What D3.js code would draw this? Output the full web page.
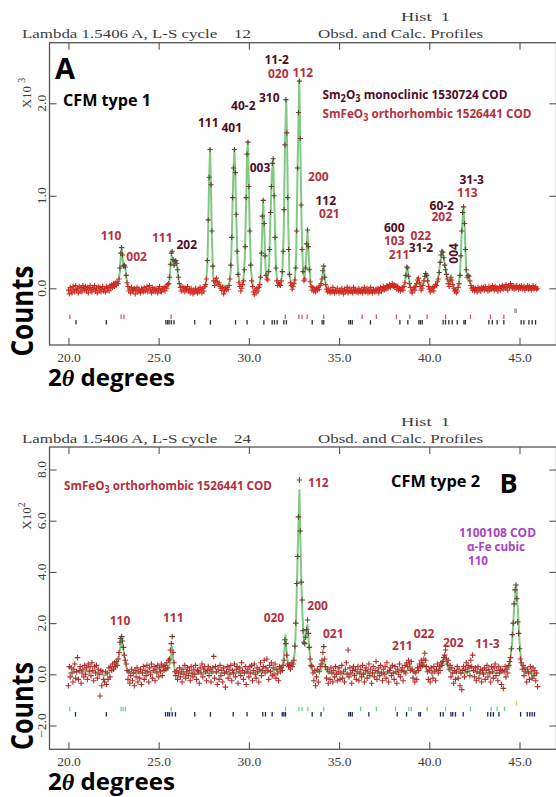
<!DOCTYPE html>
<html><head><meta charset="utf-8">
<script src="https://cdn.jsdelivr.net/npm/d3@7"></script>
<style>body{margin:0;background:#fff}svg{display:block}</style>
</head><body>
<svg id="c" width="556" height="797"></svg>
<script>
// ---------------- DATA ----------------
const xTickValues = [20, 25, 30, 35, 40, 45];
const obsStart = 20.0, obsStep = 0.05;   // 2-theta of first point and step (deg)

// Panel A observed counts (x10^3), 20.00 .. 46.00
const obsA = [
-0.02,-0.06,0.01,-0.03,-0.05,0.02,-0.01,-0.04,0.03,-0.02,0.00,-0.05,0.02,-0.03,0.01,-0.04,0.03,0.00,-0.02,0.02,
-0.03,0.01,-0.05,0.00,0.03,-0.02,-0.04,0.01,-0.01,0.03,-0.03,0.00,-0.05,0.02,-0.02,0.01,-0.04,-0.01,0.02,-0.03,
0.00,-0.04,0.02,-0.02,0.01,-0.03,0.03,0.00,0.04,0.01,0.05,0.02,0.06,0.03,0.07,0.05,0.10,0.22,0.38,0.44,
0.36,0.24,0.25,0.23,0.14,0.06,0.02,-0.03,-0.01,-0.05,0.01,-0.03,-0.02,0.00,-0.06,-0.02,0.01,-0.04,-0.01,-0.03,
-0.05,0.00,-0.02,-0.04,0.01,-0.03,-0.01,0.02,-0.04,0.00,0.03,-0.02,-0.05,0.01,-0.03,-0.01,-0.04,0.00,-0.02,-0.05,
-0.01,0.02,-0.03,-0.04,0.00,-0.02,0.01,-0.03,0.02,0.00,0.04,0.05,0.12,0.26,0.38,0.40,0.31,0.25,0.29,0.30,
0.27,0.20,0.12,0.05,0.01,-0.03,0.02,-0.02,0.01,-0.04,0.00,-0.02,0.02,-0.03,-0.01,-0.05,0.00,-0.03,-0.06,-0.02,
-0.04,0.00,-0.03,-0.05,-0.01,-0.04,0.01,-0.02,-0.05,0.00,-0.03,0.02,0.04,0.10,0.30,0.74,1.20,1.50,1.12,0.62,
0.24,0.08,0.03,0.08,0.11,0.07,0.04,0.06,0.02,0.00,-0.02,0.01,-0.06,-0.03,0.00,-0.02,0.01,-0.01,0.03,0.10,
0.25,0.55,0.98,1.30,1.50,1.25,0.80,0.40,0.15,0.06,0.02,-0.03,0.00,0.04,0.08,0.20,0.45,0.98,1.45,1.58,
1.10,0.62,0.25,0.08,0.02,-0.04,-0.07,-0.02,-0.05,0.00,-0.03,0.01,0.04,0.12,0.38,0.78,0.95,0.70,0.35,0.14,
0.10,0.09,0.18,0.42,0.82,1.10,1.35,1.40,1.00,0.55,0.22,0.08,0.03,0.06,0.04,0.03,0.08,0.18,0.40,0.85,
1.55,2.04,1.68,0.98,0.42,0.15,0.06,0.03,-0.01,0.02,0.05,0.09,0.22,0.62,1.30,1.90,2.24,1.62,0.90,0.42,
0.18,0.08,0.10,0.22,0.48,0.63,0.45,0.20,0.07,0.02,-0.02,0.01,-0.03,-0.01,-0.04,0.00,-0.02,0.01,-0.01,0.03,
0.05,0.10,0.19,0.24,0.12,0.04,-0.01,-0.04,0.00,-0.03,-0.05,-0.02,-0.04,0.01,-0.03,-0.05,-0.02,-0.04,0.00,-0.03,
-0.05,-0.02,-0.04,0.00,-0.03,-0.06,-0.01,-0.04,-0.02,0.01,-0.05,-0.03,0.00,-0.04,-0.02,-0.05,0.01,-0.03,-0.01,-0.04,
-0.02,-0.05,0.00,-0.03,-0.04,-0.01,-0.05,-0.02,0.01,-0.04,-0.03,0.00,-0.05,-0.02,-0.04,0.01,-0.03,-0.05,-0.01,-0.03,
-0.04,-0.01,-0.03,0.00,-0.05,-0.02,0.01,-0.03,-0.01,0.02,-0.02,0.01,-0.01,0.03,0.00,0.02,0.04,0.01,0.03,0.05,
0.02,0.04,0.01,0.03,-0.01,0.02,-0.02,0.00,-0.03,-0.01,0.01,-0.02,0.02,0.06,0.14,0.23,0.22,0.13,0.05,0.01,
-0.03,-0.05,-0.01,0.01,-0.02,0.02,0.05,0.09,0.11,0.06,0.02,-0.02,0.00,0.03,0.08,0.13,0.16,0.14,0.08,0.02,
-0.01,-0.04,0.00,-0.02,0.01,-0.03,0.02,0.04,0.03,0.07,0.10,0.17,0.28,0.36,0.40,0.39,0.33,0.25,0.20,0.15,
0.10,0.05,0.02,0.08,0.12,0.09,0.04,0.00,-0.03,-0.02,-0.05,-0.03,0.01,0.05,0.14,0.35,0.62,0.82,0.88,0.70,
0.42,0.20,0.12,0.14,0.13,0.08,0.03,0.00,-0.02,0.01,-0.03,0.00,-0.02,-0.04,0.01,-0.02,0.00,-0.03,0.01,-0.01,
0.01,-0.02,0.02,-0.01,0.00,-0.03,0.02,-0.02,0.01,-0.01,0.03,0.00,-0.02,0.02,-0.01,0.01,-0.03,0.00,0.02,-0.02,
0.01,0.03,-0.01,0.02,0.00,0.04,0.01,-0.02,0.03,0.01,0.05,0.02,0.00,0.03,-0.01,0.02,0.00,0.03,0.01,-0.01,
0.02,0.00,0.03,-0.01,0.01,0.02,-0.02,0.01,0.00,0.03,-0.01,0.02,0.00,-0.02,0.01,0.03,-0.01,0.00,0.02,-0.01,
0.00];

// Panel A calculated profile vertices [2theta, counts x10^3]
const calcA = [
[20.00,-0.01],[21.00,-0.01],[22.00,0.00],[22.50,0.02],[22.75,0.05],[22.85,0.18],[22.90,0.34],[22.95,0.42],[23.00,0.33],[23.05,0.24],[23.10,0.25],[23.15,0.22],[23.22,0.10],[23.30,0.01],
[24.00,-0.02],[25.00,-0.01],[25.50,0.02],[25.60,0.08],[25.65,0.22],[25.72,0.35],[25.80,0.28],[25.88,0.24],[25.95,0.28],[26.02,0.24],[26.10,0.10],[26.20,0.01],
[27.00,-0.02],[27.60,0.01],[27.70,0.25],[27.75,0.70],[27.80,1.20],[27.85,1.50],[27.90,1.10],[27.95,0.55],[28.02,0.12],[28.10,0.04],[28.20,0.08],[28.30,0.04],[28.90,0.02],
[29.00,0.20],[29.05,0.52],[29.10,0.95],[29.15,1.30],[29.20,1.50],[29.25,1.22],[29.30,0.78],[29.38,0.25],[29.48,0.04],[29.60,0.02],[29.70,0.08],[29.78,0.35],[29.85,0.95],[29.90,1.45],[29.94,1.58],[30.00,1.10],[30.05,0.60],[30.12,0.18],[30.25,0.00],
[30.55,0.00],[30.65,0.12],[30.72,0.50],[30.79,0.95],[30.85,0.68],[30.93,0.20],[31.02,0.09],[31.12,0.25],[31.20,0.80],[31.28,1.25],[31.35,1.40],[31.42,0.85],[31.50,0.22],[31.60,0.04],
[31.75,0.04],[31.85,0.15],[31.93,0.60],[32.00,1.55],[32.07,2.04],[32.12,1.55],[32.18,0.70],[32.25,0.14],[32.40,0.01],[32.55,0.08],[32.62,0.35],[32.70,1.30],[32.79,2.25],[32.85,1.60],[32.92,0.70],[33.00,0.18],
[33.08,0.09],[33.18,0.35],[33.25,0.62],[33.32,0.35],[33.42,0.05],[33.60,-0.01],[33.95,0.02],[34.08,0.14],[34.15,0.23],[34.22,0.08],[34.35,-0.02],[35.00,-0.03],[36.00,-0.03],[37.00,-0.02],[37.70,0.02],[38.00,0.03],
[38.40,0.00],[38.62,0.03],[38.72,0.17],[38.78,0.23],[38.84,0.15],[38.95,0.01],[39.15,0.00],[39.30,0.06],[39.40,0.10],[39.50,0.04],[39.65,0.04],[39.80,0.15],[39.88,0.16],[39.97,0.03],[40.20,0.00],
[40.45,0.06],[40.60,0.27],[40.72,0.40],[40.80,0.34],[40.90,0.21],[41.00,0.10],[41.10,0.04],[41.20,0.10],[41.30,0.04],[41.45,-0.02],[41.60,0.01],[41.70,0.15],[41.80,0.62],[41.90,0.88],[41.96,0.65],[42.05,0.18],
[42.15,0.13],[42.25,0.07],[42.40,0.00],[43.00,0.00],[44.00,0.01],[45.00,0.01],[46.00,0.00]];

// Panel A reflection markers (2theta)
const ticksA_SmFeO3 = [20.08,22.92,23.08,25.69,32.02,32.77,32.95,33.23,34.15,36.28,37.07,38.18,38.92,39.88,40.90,42.28,43.39,44.13];
const ticksA_Sm2O3 = [20.42,22.10,25.40,25.50,25.58,25.70,25.85,27.00,27.87,29.26,29.90,30.83,31.29,31.42,31.57,31.94,32.08,33.51,34.06,34.15,35.54,35.63,35.73,36.74,38.37,38.81,39.42,39.51,39.61,40.77,40.90,41.08,41.27,41.55,41.92,42.00,43.30,43.49,43.76,44.13,45.09,45.24,45.52,45.70,45.89];
const ticksA_extra = [44.74,44.82];
const yTicksA = [0, 1, 2];

// Panel A hkl labels: text, 2theta, counts(x10^3), phase (f = SmFeO3, s = Sm2O3)
const peakLabelsA = [
{t:"110",x:22.36,y:0.569,ph:"f"},{t:"002",x:23.78,y:0.342,ph:"f"},{t:"111",x:25.20,y:0.547,ph:"f"},
{t:"202",x:26.56,y:0.476,ph:"s"},{t:"111",x:27.75,y:1.790,ph:"s"},{t:"401",x:29.05,y:1.741,ph:"s"},
{t:"40-2",x:29.69,y:1.971,ph:"s"},{t:"310",x:31.13,y:2.065,ph:"s"},{t:"11-2",x:31.54,y:2.476,ph:"s"},
{t:"020",x:31.63,y:2.317,ph:"f"},{t:"112",x:32.99,y:2.335,ph:"f"},{t:"003",x:30.62,y:1.304,ph:"s"},
{t:"200",x:33.85,y:1.206,ph:"f"},{t:"112",x:34.26,y:0.944,ph:"s"},{t:"021",x:34.46,y:0.803,ph:"f"},
{t:"600",x:38.06,y:0.655,ph:"s"},{t:"103",x:38.06,y:0.515,ph:"f"},{t:"211",x:38.32,y:0.360,ph:"f"},
{t:"022",x:39.53,y:0.565,ph:"f"},{t:"31-2",x:39.54,y:0.443,ph:"s"},{t:"60-2",x:40.69,y:0.893,ph:"s"},
{t:"202",x:40.69,y:0.774,ph:"f"},{t:"31-3",x:42.35,y:1.178,ph:"s"},{t:"113",x:42.11,y:1.034,ph:"f"}];
const rotatedLabelsA = [{t:"004",x:41.33,y:0.378,ph:"s"}];

// Panel B observed counts (x10^2), 20.00 .. 46.00
const obsB = [
-0.45,0.30,-0.10,0.25,0.05,-0.30,0.20,0.40,-0.15,0.10,0.65,-0.20,0.15,0.30,-0.35,0.05,0.20,-0.10,0.35,0.00,
0.25,-0.20,0.40,0.10,0.30,-0.05,0.45,0.15,-0.25,0.30,0.05,0.35,-0.15,0.20,0.00,-0.85,0.15,-0.45,0.10,-0.20,
-0.30,0.10,-0.40,0.05,-0.20,0.25,-0.10,0.30,0.15,0.40,0.20,0.45,0.30,0.50,0.35,0.60,0.85,1.25,1.40,1.47,
1.30,1.05,0.75,0.55,0.40,0.15,-0.20,0.10,-0.35,-0.05,0.20,-0.25,0.05,-0.45,0.15,-0.10,0.25,-0.30,0.10,-0.15,
0.20,-0.40,0.05,0.30,-0.20,0.15,-0.05,0.35,0.10,-0.30,0.25,0.00,0.40,-0.15,0.15,0.30,-0.25,0.20,0.05,0.35,
-0.10,0.25,0.10,0.40,-0.05,0.30,0.15,0.35,0.20,0.45,0.25,0.55,0.60,0.95,1.20,1.47,0.85,0.45,0.10,-0.05,
0.15,-0.20,0.05,0.25,-0.10,0.10,-0.30,0.20,0.00,0.35,-0.15,0.10,0.25,-0.05,0.15,-0.25,0.30,0.05,-0.10,0.20,
0.00,0.35,-0.20,0.15,0.10,-0.35,0.25,0.05,0.40,-0.10,0.20,0.30,0.10,-0.25,0.15,0.30,-0.05,0.20,-0.30,0.10,
0.25,0.70,-0.15,0.30,0.10,-0.40,0.20,-0.20,0.35,-0.05,0.15,-0.30,0.25,0.05,-0.50,0.10,0.30,-0.15,0.20,0.00,
0.35,-0.25,0.15,0.05,0.40,-0.10,0.20,0.30,-0.35,0.10,0.25,-0.05,0.45,0.15,-0.20,0.05,0.30,-0.40,0.10,0.20,
-0.10,0.30,0.05,0.35,-0.25,0.15,0.40,0.00,-0.15,0.25,0.10,-0.30,0.20,0.45,-0.05,0.15,0.30,0.55,0.05,0.25,
0.60,0.15,-0.20,0.35,0.10,0.45,-0.05,0.25,0.00,0.40,-0.15,0.20,0.05,-0.25,0.30,0.10,0.25,0.15,0.35,0.55,
1.35,1.20,0.75,0.40,0.30,0.35,0.20,0.45,0.30,0.40,0.55,1.10,2.00,3.55,4.60,6.15,7.59,5.60,3.60,2.90,
1.70,1.25,1.20,1.45,1.75,2.12,1.60,1.05,0.60,0.35,0.30,0.05,-0.25,0.15,-0.45,-0.10,0.20,-0.30,0.10,0.30,
0.40,0.55,0.85,1.08,0.60,0.30,-0.15,0.20,-0.35,0.10,-0.20,0.25,0.05,-0.30,0.15,-0.10,0.30,0.00,-0.25,0.10,
0.25,-0.20,0.05,0.35,-0.15,0.10,-0.30,0.20,0.45,0.00,0.95,-0.10,0.25,0.05,-0.35,0.15,0.30,-0.05,0.20,-0.20,
0.10,0.30,-0.25,0.05,0.20,-0.10,0.35,0.00,-0.30,0.15,0.25,-0.15,0.10,0.40,-0.05,0.20,-0.35,0.05,0.30,-0.10,
0.15,0.50,-0.20,0.10,0.25,-0.05,0.35,0.05,-0.25,0.20,0.00,0.30,-0.15,0.45,0.10,-0.30,0.15,0.25,-0.05,0.35,
0.05,-0.20,0.30,0.10,-0.35,0.20,0.00,0.40,-0.10,0.15,0.25,-0.25,0.10,0.35,0.05,0.45,0.30,0.55,0.40,0.15,
0.50,0.20,-0.15,0.10,-0.30,0.05,-0.20,0.25,0.15,0.40,0.30,0.55,0.45,0.35,0.60,0.82,0.55,0.30,0.10,-0.20,
0.15,-0.30,0.25,0.05,-0.15,0.30,0.10,-0.25,0.20,0.40,0.05,0.30,0.15,0.45,0.35,0.50,0.65,0.75,0.95,0.60,
0.40,0.55,0.20,0.35,-0.10,0.25,0.05,-0.35,0.15,-0.20,0.10,0.30,-0.15,0.20,-0.45,0.05,-0.60,0.15,0.30,-0.10,
0.20,0.45,0.10,0.35,0.25,-0.05,0.55,0.30,0.75,0.15,-0.10,0.25,-0.25,0.10,0.30,-0.15,0.05,0.20,-0.30,0.15,
0.00,0.25,-0.20,0.15,0.35,-0.10,0.20,0.05,-0.30,0.30,0.10,-0.15,0.25,0.40,-0.05,0.15,-0.25,0.30,0.05,0.20,
-0.40,0.15,-0.55,0.10,0.30,-0.10,0.20,0.05,0.35,0.50,0.65,1.00,1.55,2.00,2.75,3.30,3.49,2.95,2.05,1.60,
1.00,0.60,0.45,0.20,0.35,-0.05,0.25,0.10,-0.30,0.20,0.05,-0.20,0.30,0.10,-0.15,0.25,-0.05,0.15,-0.25,0.05,
-0.48];

// Panel B calculated profile vertices [2theta, counts x10^2]
const calcB = [
[20.00,0.05],[20.50,0.10],[21.00,0.15],[21.50,0.10],[22.00,-0.05],[22.40,0.15],[22.60,0.30],[22.75,0.45],[22.85,0.95],[22.95,1.34],[23.05,0.95],[23.15,0.45],[23.30,0.05],
[24.00,0.05],[25.00,0.10],[25.50,0.25],[25.62,0.40],[25.70,0.85],[25.75,1.08],[25.82,0.50],[25.92,0.05],[27.00,0.02],[28.00,0.05],[29.00,0.05],[30.00,0.05],[31.00,0.10],
[31.70,0.20],[31.90,0.40],[31.98,1.00],[32.03,1.53],[32.10,0.80],[32.20,0.30],[32.45,0.40],[32.55,0.90],[32.62,2.20],[32.70,4.60],[32.80,7.20],[32.88,4.50],[32.95,2.60],
[33.05,1.30],[33.15,1.50],[33.25,1.95],[33.35,1.00],[33.45,0.25],[33.60,0.05],[34.00,0.15],[34.08,0.45],[34.15,0.60],[34.25,0.20],[34.40,0.05],[35.00,0.02],[36.00,0.02],
[37.00,0.05],[38.00,0.05],[38.80,0.15],[38.95,0.35],[39.10,0.05],[39.50,0.15],[39.72,0.40],[39.85,0.15],[40.50,0.15],[40.75,0.45],[40.88,0.75],[41.00,0.35],[41.20,0.05],
[42.00,0.05],[42.40,0.15],[42.60,0.05],[44.00,0.05],[44.45,0.30],[44.60,1.30],[44.70,2.60],[44.82,3.49],[44.92,2.40],[45.00,1.30],[45.10,0.40],[45.30,0.05],[46.00,0.00]];

// Panel B reflection markers (2theta)
const ticksB_SmFeO3 = [20.07,22.92,23.03,23.16,25.69,32.03,32.77,32.95,33.27,34.15,36.19,37.07,38.13,38.87,39.00,39.88,40.90,42.28,43.43,43.76,44.17];
const ticksB_second = [20.39,22.10,25.38,25.50,25.60,25.75,25.93,27.00,27.87,29.13,29.90,30.77,30.92,31.29,31.85,31.94,32.03,33.51,34.00,35.54,35.63,35.73,36.65,38.22,38.74,39.42,39.51,40.62,40.77,41.20,41.30,41.45,41.88,43.24,43.40,43.55,43.86,45.06,45.43,45.57,45.70,45.83];
const ticksB_Fe = [44.83];
const yTicksB = [-2, 0, 2, 4, 6, 8];

// Panel B hkl labels: text, 2theta, counts(x10^2)
const peakLabelsB = [
{t:"110",x:22.86,y:2.082,ph:"f"},{t:"111",x:25.81,y:2.211,ph:"f"},{t:"020",x:31.39,y:2.211,ph:"f"},
{t:"112",x:33.85,y:7.484,ph:"f"},{t:"200",x:33.81,y:2.680,ph:"f"},{t:"021",x:34.68,y:1.602,ph:"f"},
{t:"211",x:38.51,y:1.105,ph:"f"},{t:"022",x:39.71,y:1.574,ph:"f"},{t:"202",x:41.33,y:1.234,ph:"f"},
{t:"11-3",x:43.22,y:1.184,ph:"f"}];

// ---------------- DRAWING ----------------
const SERIF = "'Liberation Serif','DejaVu Serif',serif";
const SANS = "'Open Sans','Noto Sans',sans-serif";
const C = {fe:"#b4303e", sm:"#4f0c24", purple:"#a644c4", calc:"#83c885",
           axis:"#555", txt:"#3c3c3c"};
const svg = d3.select("#c");
const x = d3.scaleLinear().domain([18.95, 47.05]).range([49.5, 556.5]);

function rich(g, parts, o) {
  const t = g.append("text").attr("x", o.x).attr("y", o.y)
    .attr("font-family", SANS).attr("font-weight", 700)
    .attr("font-size", o.size).attr("fill", o.fill);
  if (o.len) t.attr("textLength", o.len).attr("lengthAdjust", "spacingAndGlyphs");
  let sub = false;
  parts.forEach(p => {
    const s = t.append("tspan").text(p[0]);
    if (p[1] && !sub) { s.attr("dy", 3).attr("font-size", o.size * 0.78); sub = true; }
    else if (p[1]) { s.attr("font-size", o.size * 0.78); }
    else if (sub) { s.attr("dy", -3); sub = false; }
  });
  return t;
}

function drawPanel(P) {
  const y = d3.scaleLinear().domain(P.yDomain).range(P.yRange);
  const g = svg.append("g");
  const top = P.yRange[1], bot = P.yRange[0];
  const [x0, x1] = x.range();

  // header
  g.append("text").attr("x", 401).attr("y", top - 21.5).attr("xml:space","preserve")
    .attr("font-family", SERIF).attr("font-size", 13.5).attr("fill", C.txt)
    .attr("textLength", 49).attr("lengthAdjust","spacingAndGlyphs").text("Hist  1");
  g.append("text").attr("x", 22).attr("y", top - 4.5).attr("xml:space","preserve")
    .attr("font-family", SERIF).attr("font-size", 13.5).attr("fill", C.txt)
    .attr("textLength", 229).attr("lengthAdjust","spacingAndGlyphs")
    .text("Lambda 1.5406 A, L-S cycle    " + P.cycle);
  g.append("text").attr("x", 318).attr("y", top - 4.5)
    .attr("font-family", SERIF).attr("font-size", 13.5).attr("fill", C.txt)
    .attr("textLength", 165).attr("lengthAdjust","spacingAndGlyphs")
    .text("Obsd. and Calc. Profiles");

  // axes
  const styleAxis = a => { a.select(".domain").remove(); a.selectAll("line").attr("stroke", C.axis).attr("stroke-width", 1.1); };
  g.append("g").attr("transform", `translate(0,${bot})`)
    .call(d3.axisBottom(x).tickValues(xTickValues).tickSize(-7).tickPadding(7).tickFormat(d3.format(".1f")))
    .call(styleAxis)
    .call(a => a.selectAll("text").attr("font-family", SERIF).attr("font-size", 13.5).attr("fill", C.txt));
  g.append("g").attr("transform", `translate(0,${top})`)
    .call(d3.axisTop(x).tickValues(xTickValues).tickSize(-7).tickFormat("")).call(styleAxis);
  g.append("g").attr("transform", `translate(${x0},0)`)
    .call(d3.axisLeft(y).tickValues(P.yTicks).tickSize(-7).tickFormat("")).call(styleAxis);
  g.append("g").attr("transform", `translate(${x1},0)`)
    .call(d3.axisRight(y).tickValues(P.yTicks).tickSize(-7).tickFormat("")).call(styleAxis);
  g.selectAll(".ylab").data(P.yTicks).join("text")
    .attr("transform", d => `translate(41,${y(d)}) rotate(-90)`)
    .attr("text-anchor", "middle").attr("dy", "0.35em")
    .attr("font-family", SERIF).attr("font-size", 13.5).attr("fill", C.txt)
    .text(d3.format(".1f"));
  g.append("rect").attr("x", x0).attr("y", top).attr("width", x1 - x0).attr("height", bot - top)
    .attr("fill", "none").attr("stroke", C.axis).attr("stroke-width", 1.3);

  // exponent label
  const ex = g.append("text").attr("transform", `translate(26,${P.expY}) rotate(-90)`)
    .attr("text-anchor", "middle").attr("dy", "0.35em").attr("xml:space","preserve")
    .attr("font-family", SERIF).attr("font-size", 13).attr("fill", C.txt);
  ex.append("tspan").text("X10" + P.expGap);
  ex.append("tspan").attr("dy", -6).attr("font-size", 10).text(P.exp);

  // reflection markers
  P.tickRows.forEach(r => {
    g.selectAll(null).data(r.data).join("line")
      .attr("x1", d => x(d)).attr("x2", d => x(d))
      .attr("y1", y(r.at) - 2.3).attr("y2", y(r.at) + 2.3)
      .attr("stroke", r.color).attr("stroke-width", 1.3);
  });

  // calc line
  g.append("path").datum(P.calc)
    .attr("d", d3.line().x(d => x(d[0])).y(d => y(d[1])))
    .attr("fill", "none").attr("stroke", C.calc).attr("stroke-width", 2).attr("stroke-linejoin","round");

  // observed
  const col = d3.scaleThreshold().domain([P.darkAt]).range([P.obsRed, P.obsDark]);
  const h = P.plus;
  g.selectAll(null).data(P.obs).join("path")
    .attr("d", `M${-h},0H${h}M0,${-h}V${h}`)
    .attr("transform", (d, i) => `translate(${x(obsStart + i * obsStep)},${y(d)})`)
    .attr("stroke", d => col(d)).attr("stroke-width", 1.1).attr("fill", "none");

  // hkl labels
  const lc = ph => ph === "f" ? C.fe : ph === "s" ? C.sm : C.purple;
  g.selectAll(null).data(P.labels).join("text")
    .attr("x", d => x(d.x)).attr("y", d => y(d.y)).attr("dy", "0.36em")
    .attr("text-anchor", "middle").attr("font-family", SANS).attr("font-weight", 700)
    .attr("font-size", 12).attr("fill", d => lc(d.ph)).text(d => d.t);
  g.selectAll(null).data(P.rlabels || []).join("text")
    .attr("transform", d => `translate(${x(d.x)},${y(d.y)}) rotate(-90)`).attr("dy", "0.36em")
    .attr("text-anchor", "middle").attr("font-family", SANS).attr("font-weight", 700)
    .attr("font-size", 12).attr("fill", d => lc(d.ph)).text(d => d.t);

  // axis titles
  g.append("text").attr("transform", `translate(33,${P.countsY}) rotate(-90)`)
    .attr("text-anchor", "middle").attr("font-family", SANS).attr("font-weight", 700)
    .attr("font-size", 31).attr("fill", "#000")
    .attr("textLength", P.countsLen).attr("lengthAdjust","spacingAndGlyphs").text("Counts");
  const xt = g.append("text").attr("x", 48).attr("y", bot + 40.5)
    .attr("font-family", SANS).attr("font-weight", 700).attr("font-size", 22.5).attr("fill", "#000")
    .attr("textLength", 127).attr("lengthAdjust","spacingAndGlyphs");
  xt.append("tspan").text("2");
  xt.append("tspan").attr("font-family", SERIF).attr("font-style", "italic").attr("font-weight", 700).text("θ");
  xt.append("tspan").text(" degrees");
  return g;
}

const gA = drawPanel({
  yDomain: [-0.613, 2.655], yRange: [345, 42.7], yTicks: yTicksA, cycle: "12",
  exp: "3", expGap: " ", expY: 93, countsY: 311, countsLen: 91,
  calc: calcA, obs: obsA, darkAt: 0.12, obsRed: "#d02a22", obsDark: "#5e4634", plus: 2.6,
  tickRows: [
    {data: ticksA_SmFeO3, at: -0.307, color: "#c9606e"},
    {data: ticksA_Sm2O3, at: -0.367, color: "#333"},
    {data: ticksA_extra, at: -0.242, color: "#999"}],
  labels: peakLabelsA, rlabels: rotatedLabelsA
});
const gB = drawPanel({
  yDomain: [-2.93, 8.88], yRange: [749.3, 447], yTicks: yTicksB, cycle: "24",
  exp: "2", expGap: "", expY: 516, countsY: 706, countsLen: 88,
  calc: calcB, obs: obsB, darkAt: 1.0, obsRed: "#b0302e", obsDark: "#5e4634", plus: 2.8,
  tickRows: [
    {data: ticksB_SmFeO3, at: -1.355, color: "#72cf8c"},
    {data: ticksB_second, at: -1.5625, color: "#1f2a5a"},
    {data: ticksB_Fe, at: -1.133, color: "#e6d24a"}],
  labels: peakLabelsB
});

// Panel annotations
rich(gA, [["A"]], {x: 55, y: 79, size: 29, fill: "#000"});
rich(gA, [["CFM type 1"]], {x: 63, y: 106, size: 16.5, fill: "#000", len: 88});
rich(gA, [["Sm"],["2",1],["O"],["3",1],[" monoclinic 1530724 COD"]], {x: 322.5, y: 98.5, size: 13, fill: C.sm, len: 185});
rich(gA, [["SmFeO"],["3",1],[" orthorhombic 1526441 COD"]], {x: 322.5, y: 118, size: 13, fill: C.fe, len: 209});

rich(gB, [["SmFeO"],["3",1],[" orthorhombic 1526441 COD"]], {x: 64, y: 490, size: 13, fill: C.fe, len: 208});
rich(gB, [["CFM type 2"]], {x: 391, y: 487, size: 16.5, fill: "#000", len: 89});
rich(gB, [["B"]], {x: 499.5, y: 492.5, size: 27, fill: "#000"});
rich(gB, [["1100108 COD"]], {x: 459, y: 537, size: 13, fill: C.purple, len: 77});
rich(gB, [["α-Fe cubic"]], {x: 467, y: 551, size: 13, fill: C.purple, len: 58});
rich(gB, [["110"]], {x: 468, y: 565, size: 13, fill: C.purple, len: 20});
</script>
</body></html>
